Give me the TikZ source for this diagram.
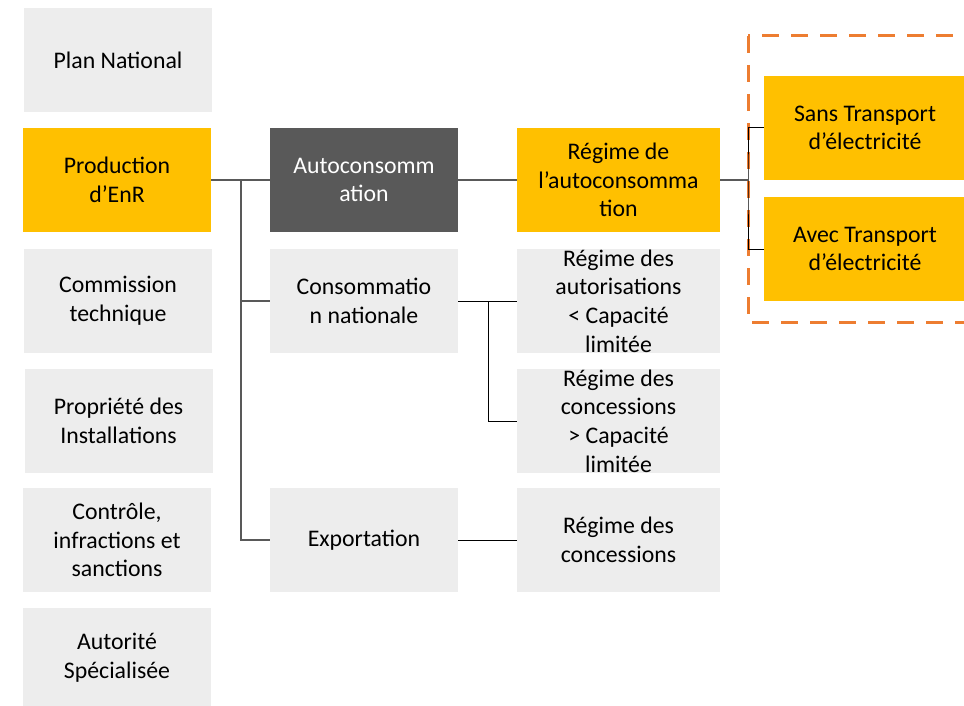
\documentclass[tikz,border=0pt]{standalone}
\usepackage{fontspec}
\setmainfont{Carlito}
\definecolor{boxgray}{HTML}{EDEDED}
\definecolor{boxyellow}{HTML}{FFC000}
\definecolor{boxdark}{HTML}{595959}
\definecolor{linegray}{HTML}{595959}
\definecolor{dashorange}{HTML}{ED7D31}
\begin{document}
\begin{tikzpicture}[x=1pt,y=-1pt,
  base/.style={rectangle, inner sep=0pt, align=center, minimum height=104pt,
    font=\fontsize{23.8}{28.6}\selectfont, text=black},
  graybox/.style={base, fill=boxgray},
  yellowbox/.style={base, fill=boxyellow},
  darkbox/.style={base, fill=boxdark, text=white},
  colA/.style={minimum width=188pt},
  colC/.style={minimum width=203pt},
  colD/.style={minimum width=202pt},
  thickline/.style={draw=linegray, line width=1.5pt},
  thinline/.style={draw=black, line width=1pt}]
\useasboundingbox (0,0) rectangle (964,706);
\begin{scope}
\clip (0,0) rectangle (964,706);
% dashed frame
\draw[dashorange, line width=3pt, dash pattern=on 17pt off 12pt] (748,36) rectangle (985,322);
% column 1
\node[graybox, colA] (plan) at (118,60) {Plan National};
\node[yellowbox, colA] (prod) at (117,180) {Production\\d’EnR};
\node[graybox, colA] (comm) at (118,301) {Commission\\technique};
\node[graybox, colA] (prop) at (118.5,421) {Propriété des\\Installations};
\node[graybox, colA] (ctrl) at (117,540) {Contrôle,\\infractions et\\sanctions};
\node[graybox, colA, minimum height=100pt] (autor) at (117,658) {Autorité\\Spécialisée};
% column 2
\node[darkbox, colA] (autoc) at (364,180) {Autoconsomm\\ation};
\node[graybox, colA] (consnat) at (364,301) {Consommatio\\n nationale};
\node[graybox, colA] (export) at (364,540) {Exportation};
% column 3
\node[yellowbox, colC] (regauto) at (618.5,180) {Régime de\\l’autoconsomma\\tion};
\node[graybox, colC] (regautor) at (618.5,301) {Régime des\\autorisations\\< Capacité\\limitée};
\node[graybox, colC] (regconcA) at (618.5,421) {Régime des\\concessions\\> Capacité\\limitée};
\node[graybox, colC] (regconcB) at (618.5,540) {Régime des\\concessions};
% column 4
\node[yellowbox, colD] (sans) at (865,128) {Sans Transport\\d’électricité};
\node[yellowbox, colD] (avec) at (865,249) {Avec Transport\\d’électricité};
% connectors
\coordinate (j1) at (241,180);
\coordinate (j2) at (748,180);
\coordinate (j3) at (488,301);
\draw[thickline] (prod.east) -- (autoc.west);
\draw[thickline] (j1) |- (consnat.west);
\draw[thickline] (j1) |- (export.west);
\draw[thickline] (autoc.east) -- (regauto.west);
\draw[thickline] (regauto.east) -- (j2);
\draw[thinline] (sans.west) -| (j2) |- (avec.west);
\draw[thinline] (consnat.east) -- (regautor.west);
\draw[thinline] (j3) |- (regconcA.west);
\draw[thinline] (export.east) -- (regconcB.west);
\end{scope}
\end{tikzpicture}
\end{document}
